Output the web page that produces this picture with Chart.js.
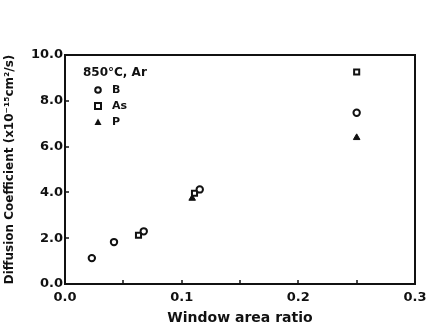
<!DOCTYPE html>
<html><head><meta charset="utf-8">
<script src="https://cdn.jsdelivr.net/npm/chart.js@4/dist/chart.umd.min.js"></script>
<style>html,body{margin:0;padding:0;background:#fff}#w{width:427px;height:327px}</style>
</head><body><div id="w"><canvas id="c" width="427" height="327"></canvas></div>
<script>
const seriesNames = ["B", "As", "P"];
const xB = [0.023, 0.042, 0.0675, 0.1155, 0.25];
const yB = [1.13, 1.83, 2.3, 4.13, 7.48];
const xAs = [0.063, 0.111, 0.25];
const yAs = [2.13, 3.96, 9.26];
const xP = [0.109, 0.25];
const yP = [3.74, 6.39];
const xTickLabels = ["0.0", "0.1", "0.2", "0.3"];
const yTickLabels = ["0.0", "2.0", "4.0", "6.0", "8.0", "10.0"];
const legendTitle = "850°C, Ar";

const pts = (xs, ys) => xs.map((x, i) => ({x, y: ys[i]}));
const FONT = "'DejaVu Sans', sans-serif";

const inward = {
  id: 'inward',
  afterDatasetsDraw(chart) {
    const {ctx, chartArea: a, scales: {x, y}} = chart;
    ctx.save();
    ctx.strokeStyle = '#111';
    ctx.lineWidth = 2;
    ctx.strokeRect(a.left, a.top, a.right - a.left, a.bottom - a.top);
    ctx.lineWidth = 1.5;
    for (let v = 0.05; v < 0.3; v += 0.05) {
      const px = Math.round(x.getPixelForValue(v));
      ctx.beginPath(); ctx.moveTo(px, a.bottom); ctx.lineTo(px, a.bottom - 4); ctx.stroke();
    }
    for (let v = 2; v < 10; v += 2) {
      const py = Math.round(y.getPixelForValue(v));
      ctx.beginPath(); ctx.moveTo(a.left, py); ctx.lineTo(a.left + 4, py); ctx.stroke();
    }
    // legend
    ctx.fillStyle = '#111';
    ctx.font = "bold 12px " + FONT;
    ctx.textBaseline = 'middle';
    ctx.textAlign = 'left';
    ctx.fillText(legendTitle, a.left + 18, a.top + 18);
    const rows = [a.top + 35, a.top + 51, a.top + 67];
    const lx = a.left + 33;
    ctx.lineWidth = 2;
    ctx.beginPath(); ctx.arc(lx, rows[0], 2.8, 0, Math.PI * 2); ctx.stroke();
    ctx.strokeRect(lx - 3, rows[1] - 3, 6, 6);
    ctx.beginPath(); ctx.moveTo(lx, rows[2] - 3.5); ctx.lineTo(lx + 3.5, rows[2] + 3); ctx.lineTo(lx - 3.5, rows[2] + 3); ctx.closePath(); ctx.fill();
    ctx.font = "bold 11px " + FONT;
    seriesNames.forEach((n, i) => ctx.fillText(n, lx + 14, rows[i]));
    ctx.restore();
  }
};

new Chart(document.getElementById('c'), {
  type: 'scatter',
  data: {
    datasets: [
      {label: seriesNames[0], data: pts(xB, yB), pointStyle: 'circle', pointRadius: 3.2, borderWidth: 2, borderColor: '#111', backgroundColor: '#fff'},
      {label: seriesNames[1], data: pts(xAs, yAs), pointStyle: 'rect', pointRadius: 3.6, borderWidth: 2, borderColor: '#111', backgroundColor: '#fff'},
      {label: seriesNames[2], data: pts(xP, yP), pointStyle: 'triangle', pointRadius: 3.8, borderWidth: 1, borderColor: '#111', backgroundColor: '#111'}
    ]
  },
  options: {
    responsive: false,
    animation: false,
    events: [],
    layout: {padding: {top: 55, right: 12, left: 0, bottom: 0}},
    plugins: {legend: {display: false}, tooltip: {enabled: false}},
    scales: {
      x: {
        min: 0, max: 0.3,
        afterFit(s) { s.height = 43; s.paddingLeft = 0; s.paddingRight = 0; },
        afterBuildTicks(s) { s.ticks = xTickLabels.map(t => ({value: parseFloat(t)})); },
        grid: {display: false, drawTicks: false},
        border: {display: false},
        ticks: {padding: 6, color: '#111', font: {family: FONT, size: 13, weight: 'bold'},
          callback: (v, i) => xTickLabels[i]},
        title: {display: true, text: 'Window area ratio', color: '#111', padding: {top: 2, bottom: 0},
          font: {family: FONT, size: 14, weight: 'bold'}}
      },
      y: {
        min: 0, max: 10,
        afterFit(s) { s.width = 65; s.paddingTop = 0; s.paddingBottom = 0; },
        afterBuildTicks(s) { s.ticks = yTickLabels.map(t => ({value: parseFloat(t)})); },
        grid: {display: false, drawTicks: false},
        border: {display: false},
        ticks: {padding: 2, color: '#111', font: {family: FONT, size: 13, weight: 'bold'},
          callback: (v, i) => yTickLabels[i]},
        title: {display: true, text: 'Diffusion Coefficient (x10⁻¹⁵cm²/s)', color: '#111', padding: {top: 3, bottom: 0},
          font: {family: FONT, size: 12, weight: 'bold'}}
      }
    }
  },
  plugins: [inward]
});
</script></body></html>
